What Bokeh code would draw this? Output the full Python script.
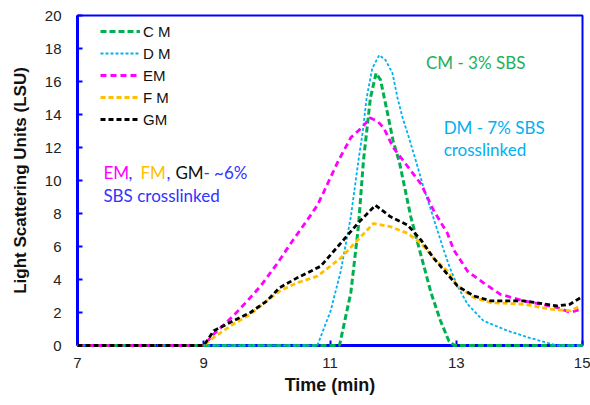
from bokeh.plotting import figure
from bokeh.models import Range1d, FixedTicker, Legend, LegendItem, Label
from bokeh.embed import file_html
from bokeh.resources import INLINE

# ---- data (time in min, light scattering units) ----
cm_t = [7, 11.15, 11.33, 11.45, 11.53, 11.64, 11.73, 11.8, 11.91, 12.0, 12.1, 12.28, 12.39, 12.6, 12.75, 12.88, 12.97, 15]
cm_v = [0, 0, 3.2, 7.2, 11.2, 15.0, 16.5, 16.1, 14.1, 12.4, 11.1, 7.8, 6.2, 3.2, 1.5, 0.3, 0, 0]

dm_t = [7, 10.8, 11.01, 11.17, 11.33, 11.45, 11.52, 11.58, 11.67, 11.78, 11.88, 11.99, 12.07, 12.15, 12.25,
        12.36, 12.48, 12.6, 12.7, 12.8, 12.9, 13.02, 13.18, 13.43, 13.81, 14.13, 14.5, 14.6, 15]
dm_v = [0, 0, 2.1, 4.5, 7.8, 11.2, 13.0, 15.0, 16.8, 17.6, 17.3, 16.5, 15.0, 13.8, 12.6,
        11.2, 9.6, 8.2, 7.0, 5.8, 4.7, 3.6, 2.5, 1.5, 0.9, 0.5, 0.1, 0, 0]

em_t = [7, 9.0, 9.16, 9.47, 9.69, 9.9, 10.17, 10.38, 10.64, 10.8, 10.9, 11.12, 11.33, 11.53, 11.63, 11.75,
        11.85, 12.0, 12.2, 12.44, 12.64, 12.86, 12.96, 13.18, 13.43, 13.7, 14.07, 14.34, 14.6, 14.81, 14.97]
em_v = [0, 0, 0.7, 1.8, 2.7, 3.6, 5.0, 6.2, 7.6, 8.5, 9.3, 11.1, 12.6, 13.3, 13.8, 13.6,
        13.2, 12.0, 11.0, 9.8, 8.2, 6.8, 5.8, 4.5, 3.8, 3.1, 2.7, 2.5, 2.3, 2.0, 2.2]

fm_t = [7, 9.0, 9.16, 9.47, 9.74, 10.0, 10.2, 10.48, 10.8, 11.17, 11.44, 11.69, 11.96, 12.23, 12.44, 12.64,
        12.86, 13.02, 13.28, 13.55, 14.07, 14.5, 14.81, 14.97]
fm_v = [0, 0, 0.5, 1.3, 1.9, 2.7, 3.3, 3.8, 4.2, 5.3, 6.4, 7.4, 7.2, 6.8, 6.2, 5.3,
        4.5, 3.6, 2.9, 2.6, 2.5, 2.2, 2.1, 2.4]

gm_t = [7, 9.0, 9.16, 9.47, 9.74, 10.0, 10.2, 10.48, 10.64, 10.85, 11.17, 11.44, 11.72, 11.96, 12.23, 12.44,
        12.64, 12.91, 13.02, 13.28, 13.55, 14.07, 14.6, 14.8, 14.97]
gm_v = [0, 0, 0.9, 1.5, 2.0, 2.7, 3.5, 4.1, 4.4, 4.8, 6.2, 7.4, 8.5, 7.8, 7.3, 6.4,
        5.3, 4.1, 3.6, 3.0, 2.7, 2.7, 2.4, 2.5, 2.9]

x_ticks = [7, 9, 11, 13, 15]
y_ticks = [0, 2, 4, 6, 8, 10, 12, 14, 16, 18, 20]
series_names = ["C M", "D M", "EM", "F M", "GM"]

FONT = "Liberation Sans"
BLUE = "#0000FF"

p = figure(width=590, height=405, output_backend="svg", toolbar_location=None,
           x_range=Range1d(7, 15), y_range=Range1d(0, 20),
           min_border_left=77, min_border_top=15, min_border_right=8, min_border_bottom=60)
p.xgrid.visible = False
p.ygrid.visible = False
p.outline_line_color = BLUE
p.outline_line_width = 2
p.background_fill_color = "white"

for ax in (p.xaxis[0], p.yaxis[0]):
    ax.axis_line_color = BLUE
    ax.axis_line_width = 3
    ax.major_tick_line_color = BLUE
    ax.major_tick_line_width = 2
    ax.major_tick_in = 5
    ax.major_tick_out = 0
    ax.minor_tick_line_color = None
    ax.major_label_text_font = FONT
    ax.major_label_text_font_size = "15px"
    ax.major_label_text_color = "#222222"
    ax.axis_label_text_font = FONT
    ax.axis_label_text_font_style = "bold"
    ax.axis_label_text_color = "#111111"

p.xaxis.axis_label_text_font_size = "18px"
p.yaxis.axis_label_text_font_size = "17px"
p.xaxis.ticker = FixedTicker(ticks=x_ticks)
p.yaxis.ticker = FixedTicker(ticks=y_ticks)
p.xaxis.axis_label = "Time (min)"
p.yaxis.axis_label = "Light Scattering Units (LSU)"
p.xaxis.major_label_standoff = 12
p.xaxis.axis_label_standoff = 4
p.yaxis.major_label_standoff = 16
p.yaxis.axis_label_standoff = 12

r_cm = p.line(cm_t, cm_v, line_color="#00B050", line_width=3, line_dash="6 3", level="overlay")
r_dm = p.line(dm_t, dm_v, line_color="#00B0F0", line_width=1.8, line_dash="3 2", level="overlay")
r_em = p.line(em_t, em_v, line_color="#FF00FF", line_width=2.8, line_dash="6 4", level="overlay")
r_fm = p.line(fm_t, fm_v, line_color="#FFC000", line_width=2.8, line_dash="5 3", level="overlay")
r_gm = p.line(gm_t, gm_v, line_color="#000000", line_width=2.8, line_dash="5 3", level="overlay")

legend = Legend(items=[LegendItem(label=n, renderers=[r]) for n, r in
                       zip(series_names, [r_cm, r_dm, r_em, r_fm, r_gm])],
                location=(23, 216), orientation="vertical",
                padding=0, margin=0, spacing=2,
                glyph_width=40, glyph_height=20, label_height=20, label_standoff=3,
                label_text_font=FONT, label_text_font_size="15px", label_text_color="#111111",
                border_line_color=None, background_fill_alpha=0)
p.add_layout(legend)

ANN = "Lato"
ANN_SIZE = "17px"

def ann(text, x, y, color, x_offset=0):
    p.add_layout(Label(x=x, y=y, text=text, text_color=color, text_font=ANN,
                       text_font_size=ANN_SIZE, text_baseline="middle", x_offset=x_offset))

ann("CM - 3% SBS", 12.52, 17.15, "#1DB05A")
ann("DM - 7% SBS", 12.80, 13.2, "#00B0F0")
ann("crosslinked", 12.80, 11.9, "#00B0F0")
ann("EM", 7.41, 10.48, "#FF00FF", 0)
ann(",", 7.41, 10.48, "#3333FF", 25)
ann("FM", 7.41, 10.48, "#FFC000", 37)
ann(",", 7.41, 10.48, "#3333FF", 63)
ann("GM", 7.41, 10.48, "#111111", 72)
ann("- ~6%", 7.41, 10.48, "#3333FF", 100)
ann("SBS crosslinked", 7.41, 9.09, "#3333FF")

open("out.html", "w").write(file_html(p, INLINE))
